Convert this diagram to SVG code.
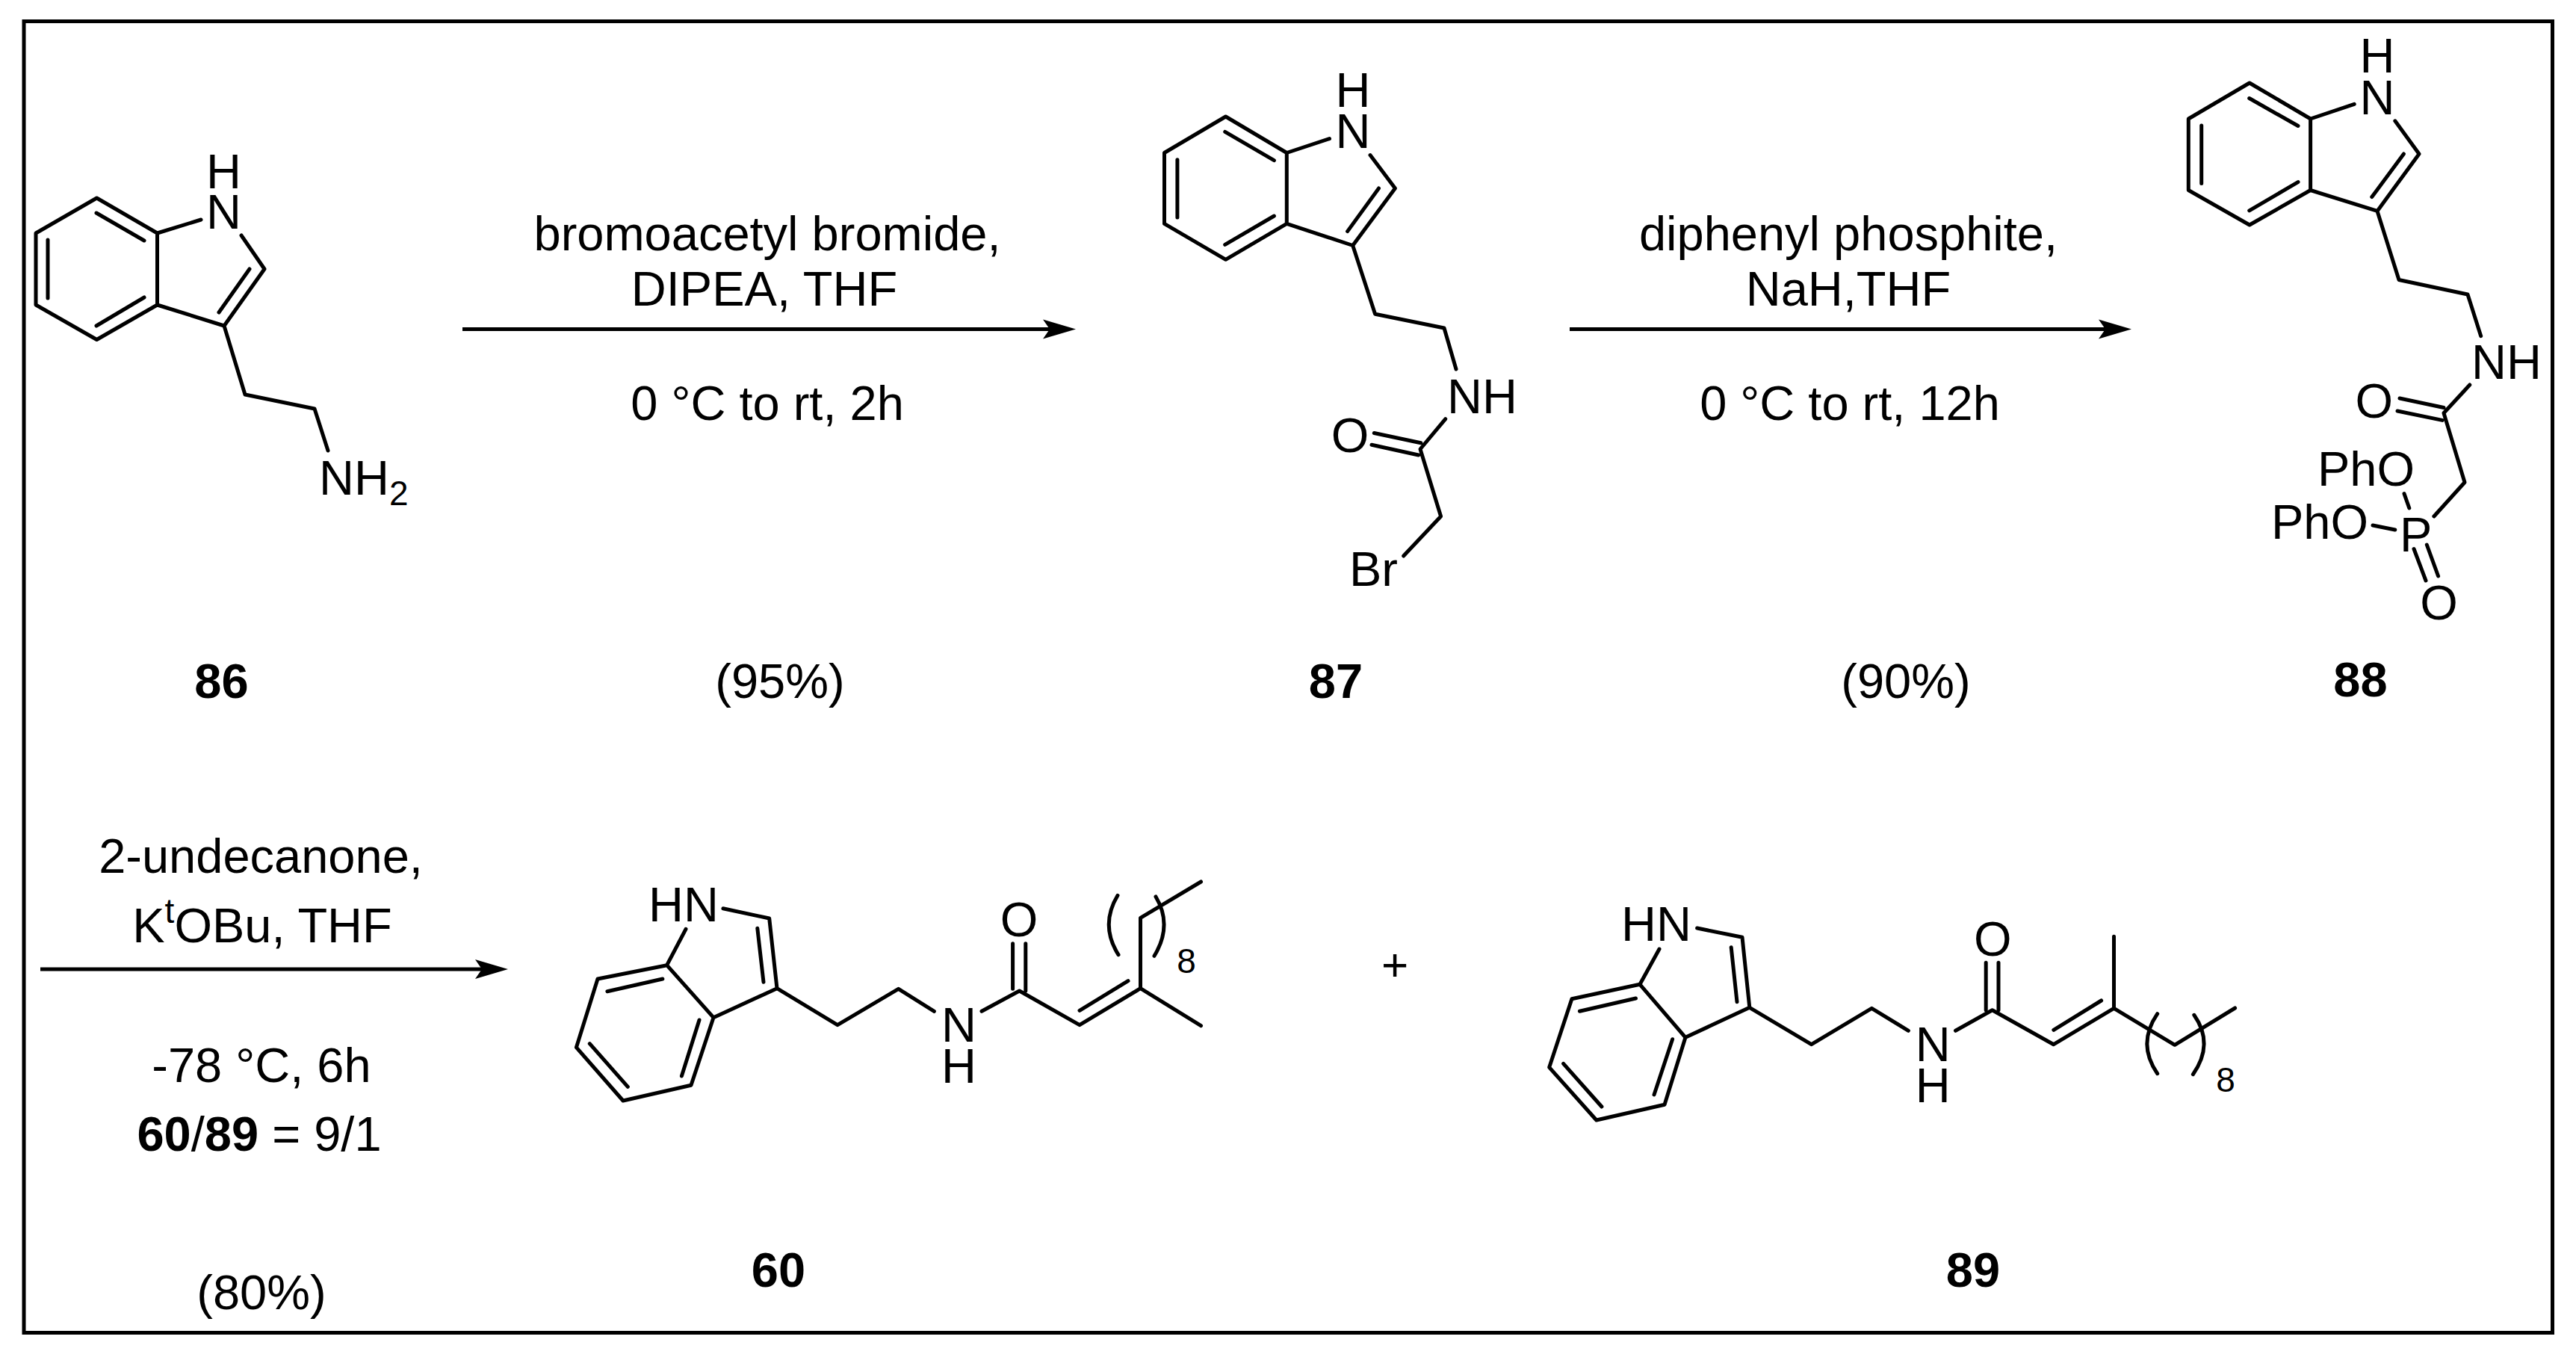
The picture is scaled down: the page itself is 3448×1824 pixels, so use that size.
<svg xmlns="http://www.w3.org/2000/svg" width="3448" height="1824" viewBox="0 0 3448 1824">
<style>
.b{stroke:#000;stroke-width:5;fill:none;stroke-linecap:round;stroke-linejoin:round}
.a{stroke:#000;stroke-width:5;fill:none}
text{font-family:"Liberation Sans",Arial,sans-serif;font-size:65px;fill:#000}
.m{text-anchor:middle}
.bd{font-weight:bold}
.s{font-size:46px}
</style>
<defs>
<marker id="head" markerUnits="userSpaceOnUse" markerWidth="46" markerHeight="30" refX="10" refY="15" viewBox="0 0 46 30" orient="auto">
<path d="M0 2L44 15L0 28L9 15Z" fill="#000"/>
</marker>
</defs>
<rect width="3448" height="1824" fill="#fff"/>
<rect id="frame" x="32" y="28.5" width="3384.5" height="1755" fill="none" stroke="#000" stroke-width="5"/>

<g id="connectors">
<path class="a" d="M619 440.6H1406" marker-end="url(#head)"/>
<path class="a" d="M2101 440.6H2819" marker-end="url(#head)"/>
<path class="a" d="M54 1297H646" marker-end="url(#head)"/>
</g>

<g id="compound-86">
<path class="b" d="M269 294L210.5 312L129.5 265L48 312V408L129.5 454.5L210.5 408V312M210.5 408L300 436L354 360L323 315M300 436L328 528L421 547L439 603"/>
<path class="b" d="M129 285L193 322M64 321V399M129 436L193 398M334 360L293 418"/>
<text class="m"><tspan x="299.6" y="251.5">H</tspan><tspan x="299.6" y="306">N</tspan></text>
<text x="427" y="662">NH<tspan class="s" dy="14">2</tspan></text>
<text class="m bd" x="296.5" y="934">86</text>
</g>

<g id="reaction-1-labels">
<text class="m" x="1027" y="335">bromoacetyl bromide,</text>
<text class="m" x="1023" y="409">DIPEA, THF</text>
<text class="m" x="1027" y="562">0 °C to rt, 2h</text>
<text class="m" x="1044" y="934">(95%)</text>
</g>

<g id="compound-87">
<path class="b" d="M1779.5 185.6L1722.3 204.5L1640.6 156L1558.5 204.5V299.4L1640.6 347.3L1722.3 299.4V204.5M1722.3 299.4L1810.7 328.5L1867.4 252L1834 207.6M1810.7 328.5L1840.6 420.3L1933 439L1949 494"/>
<path class="b" d="M1639.7 176.4L1705.4 214.7M1575.9 213.7V291M1639.7 327.4L1705.4 289M1845.5 252L1803.6 309.6"/>
<path class="b" d="M1934.8 560.6L1901 601L1928.6 691L1878.6 744M1839.3 579.5L1901.8 592.8M1836 595.3L1898.7 609"/>
<text class="m"><tspan x="1811" y="143">H</tspan><tspan x="1811" y="198">N</tspan></text>
<text x="1937" y="553">NH</text>
<text class="m" x="1807" y="605">O</text>
<text x="1806" y="784">Br</text>
<text class="m bd" x="1788" y="934">87</text>
</g>

<g id="reaction-2-labels">
<text class="m" x="2474" y="335">diphenyl phosphite,</text>
<text class="m" x="2474" y="409">NaH,THF</text>
<text class="m" x="2476" y="562">0 °C to rt, 12h</text>
<text class="m" x="2551" y="934">(90%)</text>
</g>

<g id="compound-88">
<path class="b" d="M3151.2 139.4L3092.6 159L3011 111L2929.3 159V254.5L3011 301L3092.6 254.5V159M3092.6 254.5L3182 282.4L3238 206L3205.8 161.8M3182 282.4L3211 374.5L3303 394L3320.7 449.7"/>
<path class="b" d="M3010.7 131.5L3076 168.5M2946.7 168V245.5M3010.7 281.8L3076 243.6M3217.4 206L3174.8 263.6"/>
<path class="b" d="M3305.8 515L3271 552.7L3299 645.5L3257.9 691M3212 533L3271 545.5M3209 550L3269 562.4"/>
<path class="b" d="M3218 660.6L3224.8 680M3176 703L3205.8 709M3231 734.5L3247 777M3248.3 729L3263.6 771"/>
<text class="m"><tspan x="3182" y="97">H</tspan><tspan x="3182" y="152.7">N</tspan></text>
<text x="3308" y="507">NH</text>
<text class="m" x="3177.7" y="559">O</text>
<text x="3102" y="649.7">PhO</text>
<text x="3040" y="721">PhO</text>
<text x="3212" y="738">P</text>
<text class="m" x="3264.5" y="829">O</text>
<text class="m bd" x="3159.5" y="932">88</text>
</g>

<g id="reaction-3-labels">
<text class="m" x="349" y="1167.5">2-undecanone,</text>
<text class="m" x="351" y="1261">K<tspan class="s" dy="-26">t</tspan><tspan dy="26">OBu, THF</tspan></text>
<text class="m" x="350" y="1448">-78 °C, 6h</text>
<text class="m" x="347" y="1540"><tspan class="bd">60</tspan>/<tspan class="bd">89</tspan> = 9/1</text>
<text class="m" x="350" y="1752">(80%)</text>
</g>

<g id="compound-60">
<path class="b" d="M918 1243.3L892.6 1291.7L800 1310L771.4 1401.7L834 1473L925 1452.3L955 1361.7L892.6 1291.7M955 1361.7L1040 1322.7L1029.7 1229L967.9 1215.7M1040 1322.7L1121 1371.7L1202.6 1323.3L1250.4 1353.3M1314 1353.3L1364.5 1326L1445 1371.7L1526.5 1322.7L1607.5 1372.7M1526.5 1322.7V1228.3L1607.5 1180"/>
<path class="b" d="M886.9 1310L812.9 1326.7M789.3 1396.7L840.3 1454.3M936 1365L912.4 1440M1013.8 1242.3L1022 1314.3M1445 1352.3L1510 1312.7M1355.6 1262.7V1323.3M1372.8 1262.7V1326"/>
<path class="b" d="M1496 1198.3Q1472 1238 1497 1277.7M1547 1200Q1570 1238 1545 1279.3"/>
<text x="868" y="1233">HN</text>
<text class="m"><tspan x="1283.5" y="1394">N</tspan><tspan x="1283.5" y="1449.3">H</tspan></text>
<text class="m" x="1364" y="1252.7">O</text>
<text class="m s" x="1588" y="1301.7">8</text>
<text class="m bd" x="1042" y="1722">60</text>
</g>

<text id="plus" class="m" x="1867" y="1311.6" style="font-size:62px">+</text>

<g id="compound-89">
<path class="b" d="M2221 1270L2195 1317.3L2103.9 1336.7L2073.7 1428.3L2136.8 1499L2228 1478.3L2256 1388.3L2195 1317.3M2256 1388.3L2341.8 1348.3L2332 1254.3L2271.6 1242M2341.8 1348.3L2424.6 1397.7L2505.3 1349.3L2554.4 1379.3M2617.5 1379.3L2666.7 1351.7L2748.8 1397.7L2829.5 1349.3L2910.9 1398.3L2991.6 1349M2829.5 1349.3V1253.3"/>
<path class="b" d="M2189.5 1336L2114.4 1353.3M2092.6 1423.3L2143.9 1481M2238.6 1390.7L2214 1465M2317.2 1267.7L2325 1340.7M2748.8 1378.3L2812.6 1339M2658.2 1288.3V1351.7M2675 1288.3V1351.7"/>
<path class="b" d="M2887.7 1356.7Q2860 1397 2887.7 1436.7M2936.8 1358.3Q2964 1397 2935.4 1437.7"/>
<text x="2170" y="1259.3">HN</text>
<text class="m"><tspan x="2587.3" y="1420">N</tspan><tspan x="2587.3" y="1475">H</tspan></text>
<text class="m" x="2667.3" y="1278.7">O</text>
<text class="m s" x="2979" y="1460.7">8</text>
<text class="m bd" x="2641" y="1722">89</text>
</g>
</svg>
